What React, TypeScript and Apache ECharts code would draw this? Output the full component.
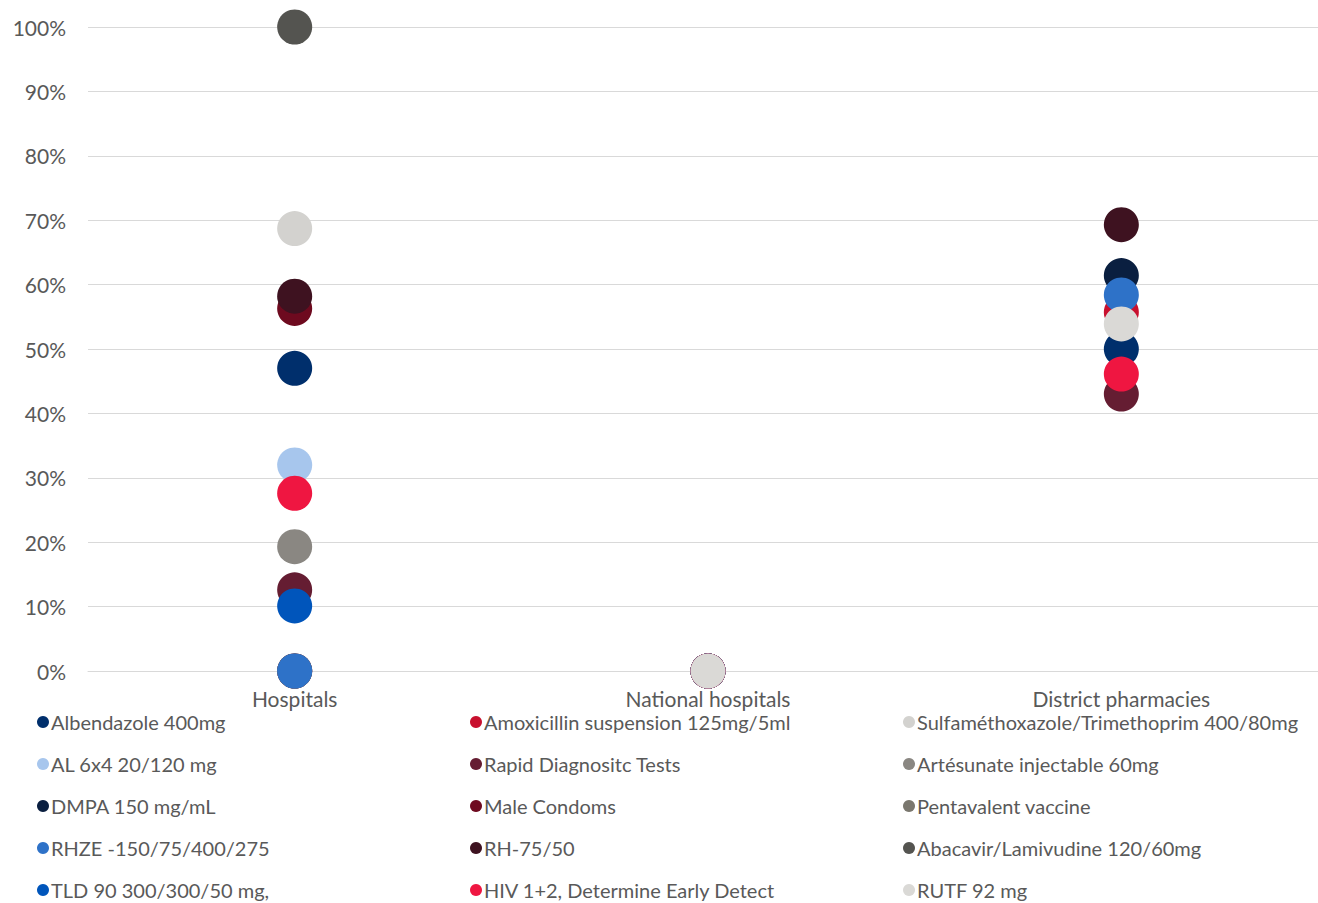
import React, { useEffect, useRef } from "react";
import * as echarts from "echarts";

const categories = ["Hospitals", "National hospitals", "District pharmacies"];
const yTicks = [0, 0.1, 0.2, 0.3, 0.4, 0.5, 0.6, 0.7, 0.8, 0.9, 1];

// series in legend (row-major) order
const seriesNames = [
  "Albendazole 400mg",
  "Amoxicillin suspension 125mg/5ml",
  "Sulfaméthoxazole/Trimethoprim 400/80mg",
  "AL 6x4 20/120 mg",
  "Rapid Diagnositc Tests",
  "Artésunate injectable 60mg",
  "DMPA 150 mg/mL",
  "Male Condoms",
  "Pentavalent vaccine",
  "RHZE -150/75/400/275",
  "RH-75/50",
  "Abacavir/Lamivudine 120/60mg",
  "TLD 90 300/300/50 mg,",
  "HIV 1+2, Determine Early Detect",
  "RUTF 92 mg",
];
const seriesColors = [
  "#002F6C", "#C8102E", "#D3D2CF", "#A7C6ED", "#651D32",
  "#8A8782", "#0A1F40", "#6E0A1F", "#7A776E", "#2E72C8",
  "#3E1220", "#545450", "#0055BB", "#EF1641", "#DAD9D6",
];
// values per category: [Hospitals, National hospitals, District pharmacies]
const albendazole = [0.47, 0, 0.50];
const amoxicillin = [0, 0, 0.557];
const sulfamethoxazole = [0.687, 0, null];
const al = [0.32, 0, null];
const rapidTests = [0.126, 0, 0.43];
const artesunate = [0.193, 0, null];
const dmpa = [0, 0, 0.614];
const maleCondoms = [0.563, 0, null];
const pentavalent = [0, 0, null];
const rhze = [0, 0, 0.584];
const rh = [0.582, 0, 0.693];
const abacavir = [1.0, 0, null];
const tld = [0.101, 0, null];
const hiv = [0.276, 0, 0.461];
const rutf = [null, 0, 0.539];

const seriesValues = [
  albendazole, amoxicillin, sulfamethoxazole, al, rapidTests,
  artesunate, dmpa, maleCondoms, pentavalent, rhze,
  rh, abacavir, tld, hiv, rutf,
];

const FONT = "Lato";
const TEXT = "#595959";

export default function App() {
  const ref = useRef<HTMLDivElement>(null);
  useEffect(() => {
    document.body.style.margin = "0";
    const chart = echarts.init(ref.current!, null, { renderer: "svg" });
    const legendCols = [0, 1, 2].map((c) => ({
      orient: "vertical" as const,
      left: 32 + c * 433,
      top: 707,
      height: 195,
      itemWidth: 12,
      itemHeight: 12,
      itemGap: 22,
      icon: "circle",
      selectedMode: false,
      textStyle: {
        fontFamily: FONT,
        fontSize: 20,
        lineHeight: 20,
        color: TEXT,
        padding: [0, 0, 0, -3],
      },
      data: seriesNames.filter((_, i) => i % 3 === c),
    }));
    chart.setOption({
      animation: false,
      textStyle: { fontFamily: FONT },
      legend: legendCols,
      grid: { left: 88, top: 27, width: 1240, height: 644, containLabel: false },
      xAxis: {
        type: "category",
        data: categories,
        boundaryGap: true,
        axisLine: { show: true, lineStyle: { color: "#D9D9D9", width: 1 } },
        axisTick: { show: false },
        axisLabel: { fontFamily: FONT, fontSize: 21, color: TEXT, margin: 17 },
      },
      yAxis: {
        type: "value",
        min: 0,
        max: 1,
        interval: 0.1,
        axisLine: { show: false },
        axisTick: { show: false },
        splitLine: { lineStyle: { color: "#D9D9D9", width: 1 } },
        axisLabel: {
          fontFamily: FONT,
          fontSize: 21,
          color: TEXT,
          margin: 22,
          formatter: (v: number) => {
            const t = yTicks.find((x) => Math.abs(x - v) < 1e-6);
            return Math.round((t ?? v) * 100) + "%";
          },
        },
      },
      series: seriesNames.map((name, i) => ({
        name,
        type: "scatter",
        symbol: "circle",
        symbolSize: 35,
        itemStyle: { color: seriesColors[i], opacity: 1 },
        emphasis: { disabled: true },
        data: seriesValues[i],
      })),
    });
    return () => chart.dispose();
  }, []);
  return (
    <div
      style={{
        position: "absolute",
        left: 0,
        top: 0,
        width: 1318,
        height: 903,
        overflow: "hidden",
      }}
    >
      <div ref={ref} style={{ width: 1340, height: 903 }} />
    </div>
  );
}
